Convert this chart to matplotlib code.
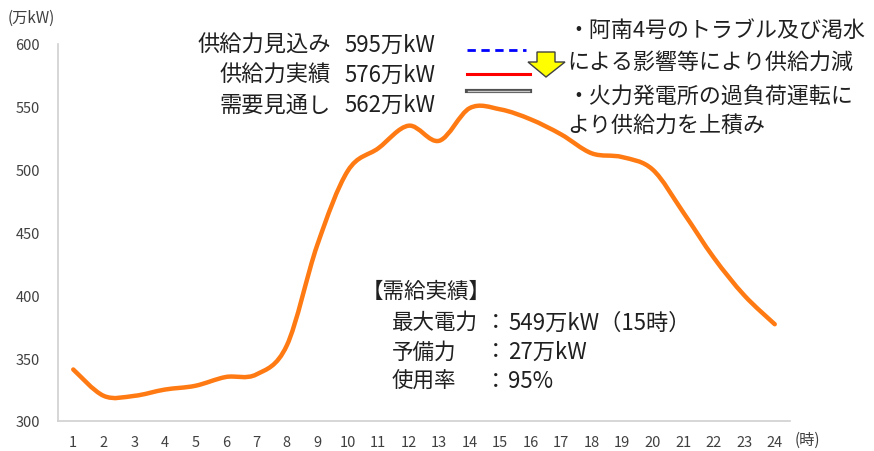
import numpy as np
import matplotlib.pyplot as plt
from matplotlib.path import Path
from matplotlib.patches import PathPatch, Polygon

plt.rcParams['font.family'] = ['Noto Sans CJK JP', 'DejaVu Sans']

hours = list(range(1, 25))
demand = [341, 320, 320, 325, 328, 335, 337, 360, 440, 499, 517, 535,
          523, 549, 548, 540, 528, 513, 510, 500, 466, 430, 400, 377]
y_ticks = [300, 350, 400, 450, 500, 550, 600]

legend_labels = ['供給力見込み', '供給力実績', '需要見通し']
legend_values = ['595万kW', '576万kW', '562万kW']
notes = ['・阿南4号のトラブル及び渇水', 'による影響等により供給力減',
         '・火力発電所の過負荷運転に', 'より供給力を上積み']
summary_title = '【需給実績】'
summary_labels = ['最大電力', '予備力', '使用率']
summary_values = ['549万kW（15時）', '27万kW', '95%']

W, H = 874, 452
fig = plt.figure(figsize=(W / 100, H / 100), dpi=100)


def fx(px):
    return px / W


def fy(py):
    return 1 - py / H


ax = fig.add_axes([fx(58), fy(422), fx(790) - fx(58), fy(45) - fy(422)])
ax.set_xlim(0.5, 24.5)
ax.set_ylim(300, 600)

# smooth line (Excel style), bezier segments through the data points
pts = np.column_stack([hours, demand]).astype(float)
verts = [tuple(pts[0])]
codes = [Path.MOVETO]
n = len(pts)
for i in range(n - 1):
    p0 = pts[max(i - 1, 0)]
    p1 = pts[i]
    p2 = pts[i + 1]
    p3 = pts[min(i + 2, n - 1)]
    c1 = p1 + (p2 - p0) / 6
    c2 = p2 - (p3 - p1) / 6
    verts += [tuple(c1), tuple(c2), tuple(p2)]
    codes += [Path.CURVE4] * 3
ax.add_patch(PathPatch(Path(verts, codes), fill=False, edgecolor='#FF7A12',
                       lw=3.2, capstyle='round', joinstyle='round'))

for s in ['top', 'right']:
    ax.spines[s].set_visible(False)
for s in ['left', 'bottom']:
    ax.spines[s].set_color('#d0d0d0')
    ax.spines[s].set_linewidth(1.2)
ax.set_xticks(hours)
ax.set_yticks(y_ticks)
ax.tick_params(length=0, labelsize=10.5, colors='#404040')
ax.tick_params(axis='y', pad=13)
ax.tick_params(axis='x', pad=10)

fig.text(fx(8), fy(18), '(万kW)', fontsize=11, color='#404040', va='center')
fig.text(fx(795), fy(440), '(時)', fontsize=11, color='#404040', va='center')

# legend-like block
for i, (lab, val) in enumerate(zip(legend_labels, legend_values)):
    y = 45 + i * 30
    fig.text(fx(331), fy(y), lab, fontsize=16, ha='right', va='center', color='#202020')
    fig.text(fx(344), fy(y), val, fontsize=16, ha='left', va='center', color='#202020')

fig.add_artist(plt.Line2D([fx(467), fx(526)], [fy(51), fy(51)], color='#0000FF',
                          lw=2, ls=(0, (3, 2))))
fig.add_artist(plt.Line2D([fx(467), fx(530)], [fy(75), fy(75)], color='#FF0000', lw=2.2))
fig.add_artist(plt.Line2D([fx(467), fx(530)], [fy(92), fy(92)], color='#505050', lw=3))
fig.add_artist(plt.Line2D([fx(468), fx(529)], [fy(92), fy(92)], color='#c8c8c8', lw=1))

arrow = [(537, 53), (555, 53), (555, 63), (565, 63), (546, 78), (528, 63), (537, 63)]
fig.add_artist(Polygon([(fx(a), fy(b)) for a, b in arrow], closed=True,
                       facecolor='#FFFF00', edgecolor='#404040', lw=1,
                       transform=fig.transFigure))

for i, t in enumerate(notes):
    fig.text(fx(567), fy([31, 63, 97, 126][i]), t, fontsize=15.8, va='center', color='#202020')

fig.text(fx(362), fy(292), summary_title, fontsize=15.5, va='center', color='#202020')
for i, (lab, val) in enumerate(zip(summary_labels, summary_values)):
    y = 323 + i * 29.5
    fig.text(fx(392), fy(y), lab, fontsize=15.5, va='center', color='#202020')
    fig.text(fx(485), fy(y), '：', fontsize=15.5, va='center', color='#202020')
    fig.text(fx(508), fy(y), val, fontsize=16, va='center', color='#202020')

fig.savefig('out.png', dpi=100)
